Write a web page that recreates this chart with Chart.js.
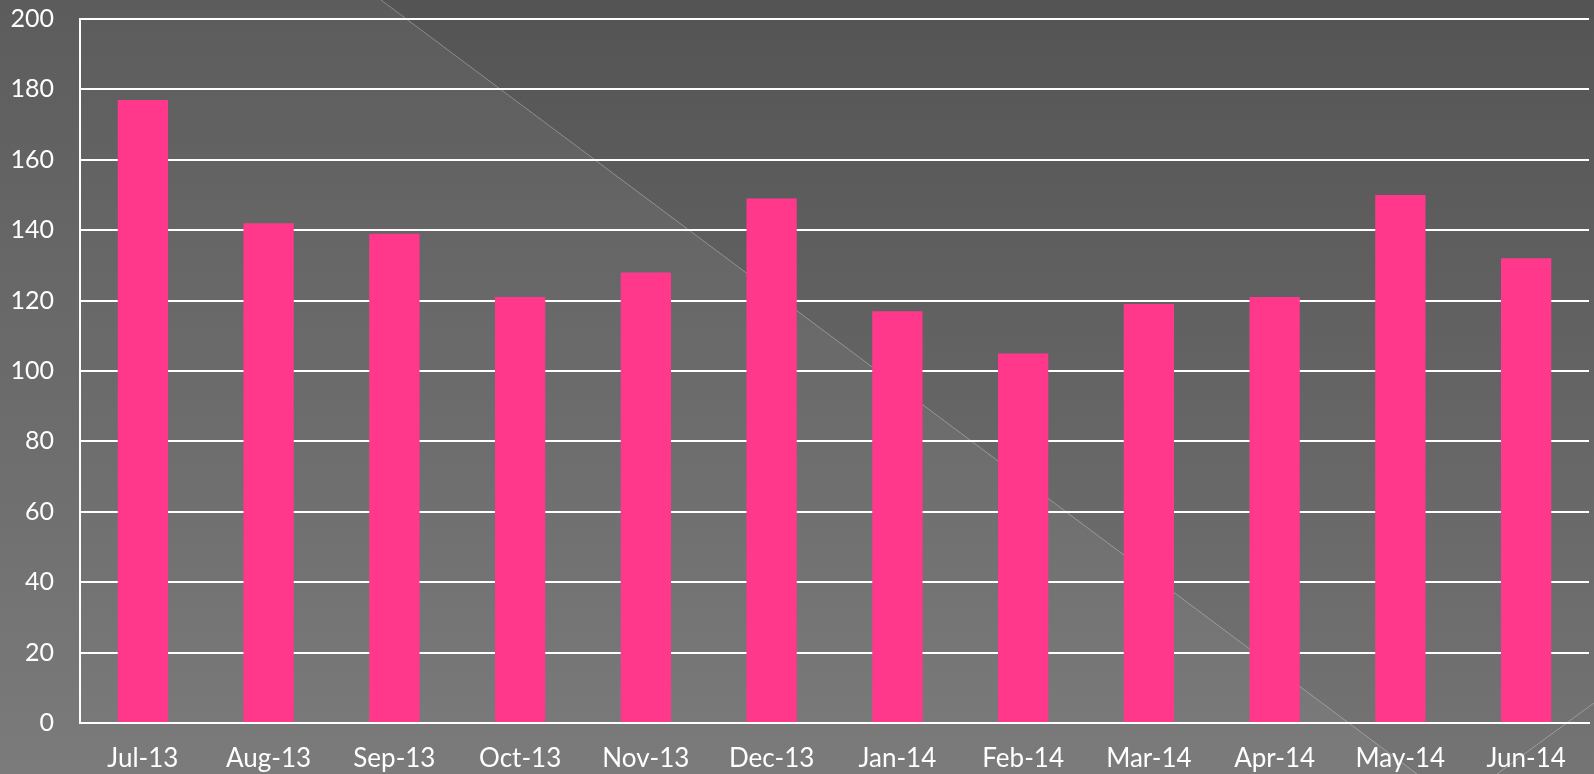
<!DOCTYPE html>
<html>
<head>
<meta charset="utf-8">
<script src="https://cdn.jsdelivr.net/npm/chart.js@4/dist/chart.umd.min.js"></script>
<style>
  html, body { margin: 0; padding: 0; background: #606060; }
  #wrap { width: 1594px; height: 774px; }
</style>
</head>
<body>
<div id="wrap"><canvas id="chart" width="1594" height="774"></canvas></div>
<script>
// data
const months = ['Jul-13', 'Aug-13', 'Sep-13', 'Oct-13', 'Nov-13', 'Dec-13',
                'Jan-14', 'Feb-14', 'Mar-14', 'Apr-14', 'May-14', 'Jun-14'];
const counts = [177, 142, 139, 121, 128, 149, 117, 105, 119, 121, 150, 132];
const yTicks = [0, 20, 40, 60, 80, 100, 120, 140, 160, 180, 200];

// slide-like backdrop: grey gradient, lighter wedge on the left, two thin diagonals
const backdrop = {
    id: 'backdrop',
    beforeDraw(chart) {
        const ctx = chart.ctx;
        const w = chart.width, h = chart.height;
        ctx.save();
        const g = ctx.createLinearGradient(0, 0, 0, h);
        g.addColorStop(0, '#545454');
        g.addColorStop(1, '#747474');
        ctx.fillStyle = g;
        ctx.fillRect(0, 0, w, h);

        ctx.beginPath();
        ctx.moveTo(0, 0);
        ctx.lineTo(381, 0);
        ctx.lineTo(1417, h);
        ctx.lineTo(0, h);
        ctx.closePath();
        ctx.fillStyle = 'rgba(255,255,255,0.05)';
        ctx.fill();

        ctx.strokeStyle = 'rgba(255,255,255,0.3)';
        ctx.lineWidth = 1;
        ctx.beginPath();
        ctx.moveTo(381, 0);
        ctx.lineTo(1417, h);
        ctx.moveTo(w, 703);
        ctx.lineTo(1497, h);
        ctx.stroke();
        ctx.restore();
    }
};

new Chart(document.getElementById('chart'), {
    type: 'bar',
    data: {
        labels: months,
        datasets: [{
            data: counts,
            backgroundColor: '#FF388B',
            borderWidth: 0,
            barPercentage: 0.4,
            categoryPercentage: 1
        }]
    },
    options: {
        responsive: false,
        animation: false,
        layout: { padding: { top: 0, right: 5, left: 0, bottom: 0 } },
        plugins: {
            legend: { display: false },
            tooltip: { enabled: false }
        },
        scales: {
            x: {
                grid: { display: false, drawTicks: false },
                border: { display: true, color: '#ffffff', width: 2 },
                ticks: {
                    color: '#ffffff',
                    font: { family: 'Lato, "Open Sans", sans-serif', size: 26 },
                    padding: 20,
                    maxRotation: 0
                },
                afterFit(scale) { scale.height = 51; }
            },
            y: {
                min: 0,
                max: 200,
                afterBuildTicks(scale) { scale.ticks = yTicks.map(v => ({ value: v })); },
                grid: { color: '#ffffff', lineWidth: 2, drawTicks: false },
                border: { display: true, color: '#ffffff', width: 2 },
                ticks: {
                    color: '#ffffff',
                    font: { family: 'Lato, "Open Sans", sans-serif', size: 25 },
                    padding: 26
                },
                afterFit(scale) {
                    scale.width = 80;
                    scale.paddingTop = 19;
                    scale.paddingBottom = 0;
                }
            }
        }
    },
    plugins: [backdrop]
});
</script>
</body>
</html>
